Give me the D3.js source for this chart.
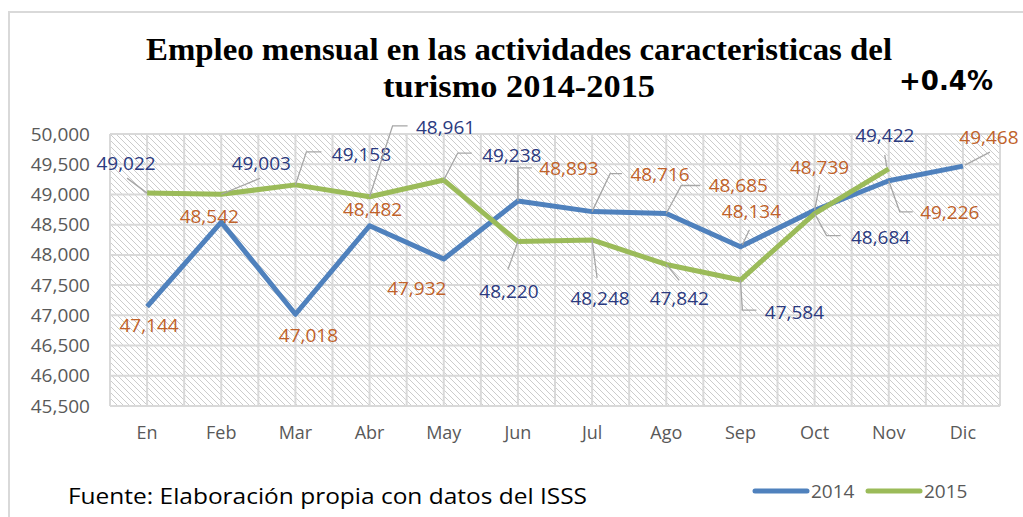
<!DOCTYPE html>
<html>
<head>
<meta charset="utf-8">
<script src="https://cdn.jsdelivr.net/npm/d3@7"></script>
<style>
  body { margin: 0; background: #fff; }
  svg { display: block; }
</style>
</head>
<body>
<div id="chart"></div>
<script>
// data
const months = ['En', 'Feb', 'Mar', 'Abr', 'May', 'Jun', 'Jul', 'Ago', 'Sep', 'Oct', 'Nov', 'Dic'];
const values2014 = [47144, 48542, 47018, 48482, 47932, 48893, 48716, 48685, 48134, 48739, 49226, 49468];
const values2015 = [49022, 49003, 49158, 48961, 49238, 48220, 48248, 47842, 47584, 48684, 49422];
const yTicks = [45500, 46000, 46500, 47000, 47500, 48000, 48500, 49000, 49500, 50000];
const seriesNames = ['2014', '2015'];

// label placement relative to its point: [dx, dy] of text centre, leader polyline
const place2014 = [
    {dx: 2, dy: 19},
    {dx: -12, dy: -6},
    {dx: 13, dy: 21},
    {dx: 3, dy: -16},
    {dx: -27, dy: 29},
    {dx: 51, dy: -33, leader: [[0, 0], [0, -33], [14, -33]]},
    {dx: 68, dy: -37, leader: [[0, 0], [18, -38], [30, -38]]},
    {dx: 72, dy: -28, leader: [[0, 0], [15, -28], [34, -28]]},
    {dx: 11, dy: -35, leader: [[2, -2], [9, -17]]},
    {dx: 5, dy: -43, leader: [[0, 0], [5, -25]]},
    {dx: 61, dy: 32, leader: [[0, 0], [11, 31], [24, 31]]},
    {dx: 26, dy: -29, leader: [[2, -1], [27, -14]]}
];
const place2015 = [
    {dx: -21, dy: -30, leader: [[0, 0], [-20, -15]]},
    {dx: 40, dy: -31, leader: [[0, 0], [39, -16]]},
    {dx: 66, dy: -31, leader: [[0, 0], [11, -33], [26, -33]]},
    {dx: 76, dy: -69, leader: [[0, 0], [23, -71], [38, -71]]},
    {dx: 68, dy: -25, leader: [[0, 0], [14, -27], [28, -27]]},
    {dx: -9, dy: 50, leader: [[0, 0], [-10, 28]]},
    {dx: 8, dy: 58, leader: [[0, 0], [5, 38]]},
    {dx: 13, dy: 34, leader: [[0, 0], [13, 16]]},
    {dx: 54, dy: 32, leader: [[0, 0], [2, 30], [16, 30]]},
    {dx: 66, dy: 24, leader: [[0, 0], [12, 22], [26, 22]]},
    {dx: -4, dy: -34, leader: [[-2, -2], [-4, -14]]}
];

const W = 1023, H = 517;
const margin = {top: 134, right: 23, bottom: 111, left: 110};
const width = W - margin.left - margin.right,
      height = H - margin.top - margin.bottom;

const blue = '#4f81bd', green = '#9bbb59';
const brownText = '#c0622a', navyText = '#2b3a80';
const sans = '"Open Sans", "Noto Sans", sans-serif';

const svg = d3.select('#chart').append('svg')
    .attr('width', W)
    .attr('height', H);

// hatch fill of the plot area
const defs = svg.append('defs');
const pat = defs.append('pattern')
    .attr('id', 'hatch')
    .attr('patternUnits', 'userSpaceOnUse')
    .attr('width', 6)
    .attr('height', 6);
pat.append('rect').attr('width', 6).attr('height', 6).attr('fill', '#fff');
pat.append('path')
    .attr('d', 'M0,0 L6,6 M-1,5 L1,7 M5,-1 L7,1')
    .attr('stroke', '#cccccc')
    .attr('stroke-width', 1);

// chart frame
svg.append('rect')
    .attr('x', 9).attr('y', 12)
    .attr('width', W + 20).attr('height', H + 20)
    .attr('fill', 'none')
    .attr('stroke', '#d9d9d9')
    .attr('stroke-width', 2);

// title
svg.append('text')
    .attr('x', 519).attr('y', 60)
    .attr('text-anchor', 'middle')
    .attr('textLength', 746)
    .attr('lengthAdjust', 'spacingAndGlyphs')
    .style('font-family', '"Liberation Serif", serif')
    .style('font-weight', 'bold')
    .style('font-size', '31px')
    .attr('fill', '#000')
    .text('Empleo mensual en las actividades caracteristicas del');
svg.append('text')
    .attr('x', 519).attr('y', 97)
    .attr('text-anchor', 'middle')
    .attr('textLength', 272)
    .attr('lengthAdjust', 'spacingAndGlyphs')
    .style('font-family', '"Liberation Serif", serif')
    .style('font-weight', 'bold')
    .style('font-size', '31px')
    .attr('fill', '#000')
    .text('turismo 2014-2015');

svg.append('text')
    .attr('x', 946).attr('y', 90)
    .attr('text-anchor', 'middle')
    .style('font-family', '"DejaVu Sans", sans-serif')
    .style('font-weight', 'bold')
    .style('font-size', '26px')
    .attr('fill', '#000')
    .text('+0.4%');

const g = svg.append('g')
    .attr('transform', 'translate(' + margin.left + ',' + margin.top + ')');

const x = d3.scaleBand()
    .domain(months)
    .range([0, width]);

const y = d3.scaleLinear()
    .domain([45500, 50000])
    .range([height, 0]);

const cx = function(i) { return x(months[i]) + x.bandwidth() / 2; };

g.append('rect')
    .attr('width', width)
    .attr('height', height)
    .attr('fill', 'url(#hatch)');

// gridlines: horizontal at each tick, vertical every half band
g.append('g')
    .selectAll('line')
    .data(yTicks)
    .enter().append('line')
    .attr('x1', 0).attr('x2', width)
    .attr('y1', d => y(d)).attr('y2', d => y(d))
    .attr('stroke', '#d9d9d9')
    .attr('stroke-width', 2);

const halfSteps = d3.range(months.length * 2 + 1);
g.append('g')
    .selectAll('line')
    .data(halfSteps)
    .enter().append('line')
    .attr('x1', d => d * x.bandwidth() / 2)
    .attr('x2', d => d * x.bandwidth() / 2)
    .attr('y1', 0).attr('y2', height)
    .attr('stroke', '#d9d9d9')
    .attr('stroke-width', 2);

// axes
const yAxis = g.append('g')
    .call(d3.axisLeft(y).tickValues(yTicks).tickFormat(d3.format(',')).tickSize(0).tickPadding(20));
yAxis.select('.domain').remove();
yAxis.selectAll('text')
    .style('font-family', sans)
    .style('font-size', '19px')
    .attr('fill', '#595959');

const xAxis = g.append('g')
    .attr('transform', 'translate(0,' + height + ')')
    .call(d3.axisBottom(x).tickSize(0).tickPadding(20));
xAxis.select('.domain').remove();
xAxis.selectAll('text')
    .style('font-family', sans)
    .style('font-size', '18px')
    .attr('fill', '#595959');

// lines
const line = d3.line()
    .x((d, i) => cx(i))
    .y(d => y(d));

g.append('path')
    .datum(values2014)
    .attr('fill', 'none')
    .attr('stroke', blue)
    .attr('stroke-width', 5)
    .attr('stroke-linejoin', 'round')
    .attr('d', line);

g.append('path')
    .datum(values2015)
    .attr('fill', 'none')
    .attr('stroke', green)
    .attr('stroke-width', 5)
    .attr('stroke-linejoin', 'round')
    .attr('d', line);

// data labels with leader lines
function addLabels(values, place, color) {
    const lab = g.append('g');
    values.forEach(function(v, i) {
        const px = cx(i), py = y(v), p = place[i];
        if (p.leader) {
            lab.append('polyline')
                .attr('points', p.leader.map(q => (px + q[0]) + ',' + (py + q[1])).join(' '))
                .attr('fill', 'none')
                .attr('stroke', '#a6a6a6')
                .attr('stroke-width', 1.3);
        }
        lab.append('text')
            .attr('x', px + p.dx)
            .attr('y', py + p.dy)
            .attr('dy', '0.35em')
            .attr('text-anchor', 'middle')
            .style('font-family', sans)
            .style('font-size', '19px')
            .attr('fill', color)
            .text(d3.format(',')(v));
    });
}
addLabels(values2014, place2014, brownText);
addLabels(values2015, place2015, navyText);

// footer source
svg.append('text')
    .attr('x', 68).attr('y', 504)
    .attr('textLength', 519)
    .attr('lengthAdjust', 'spacingAndGlyphs')
    .style('font-family', sans)
    .style('font-size', '22px')
    .attr('fill', '#000')
    .text('Fuente: Elaboración propia con datos del ISSS');

// legend
const legend = svg.append('g').attr('transform', 'translate(755,491)');
const legendColors = [blue, green];
seriesNames.forEach(function(name, i) {
    const lg = legend.append('g').attr('transform', 'translate(' + (i * 113) + ',0)');
    lg.append('line')
        .attr('x1', 0).attr('x2', 52)
        .attr('stroke', legendColors[i])
        .attr('stroke-width', 5)
        .attr('stroke-linecap', 'round');
    lg.append('text')
        .attr('x', 56).attr('dy', '0.35em')
        .style('font-family', sans)
        .style('font-size', '19px')
        .attr('fill', '#595959')
        .text(name);
});
</script>
</body>
</html>
